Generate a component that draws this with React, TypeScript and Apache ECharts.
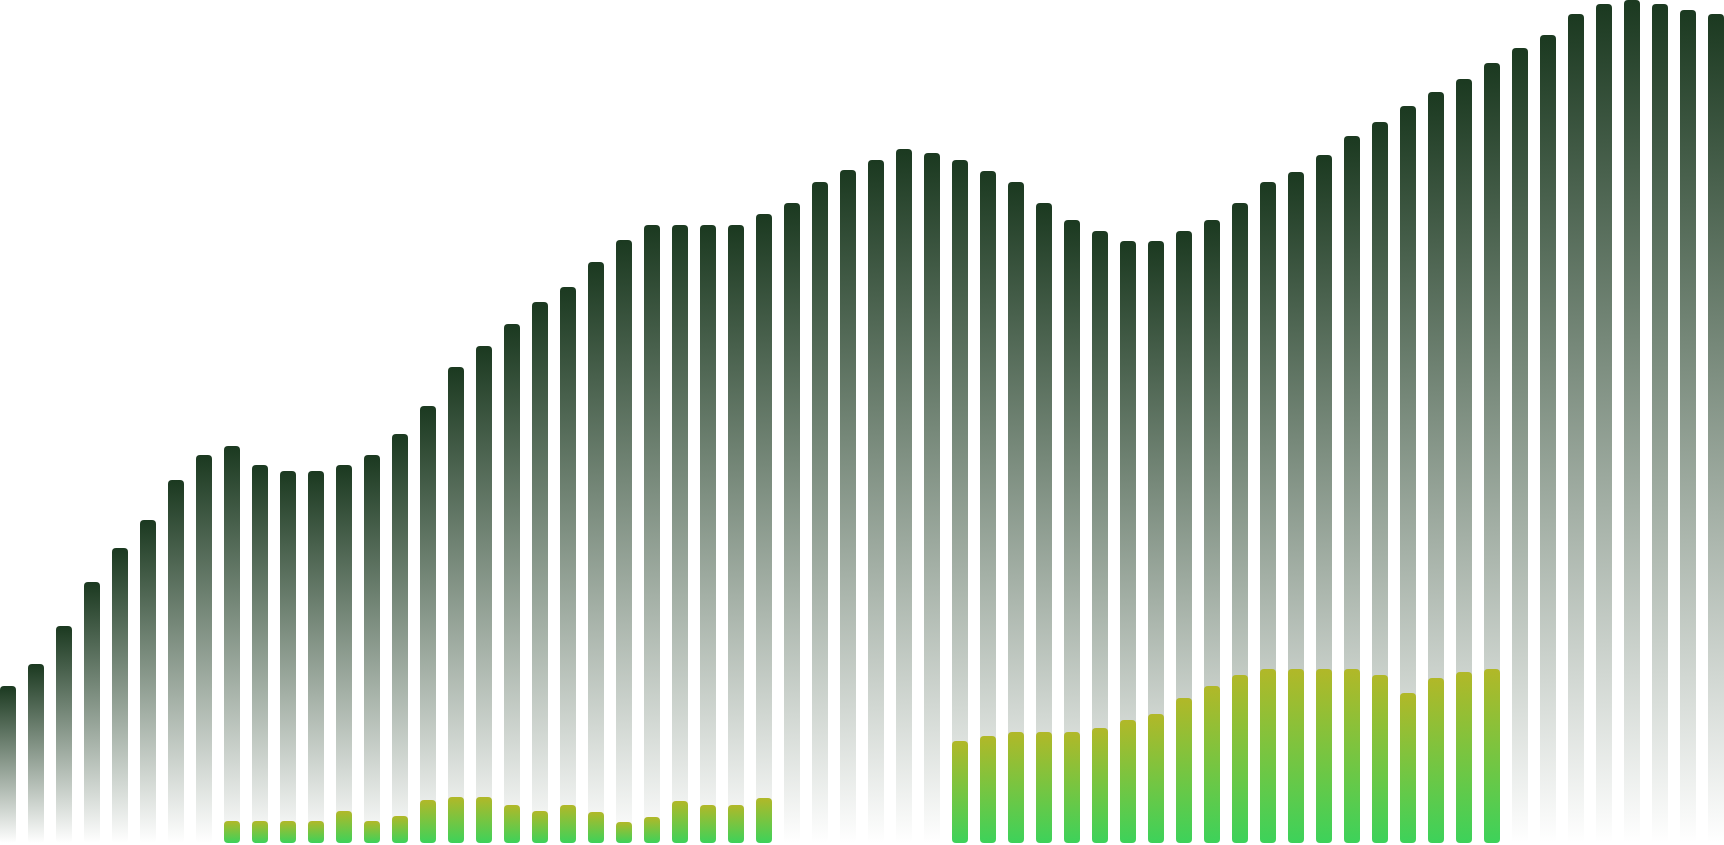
import React, { useEffect, useRef } from "react";
import * as echarts from "echarts";

const categories: string[] = Array.from({ length: 62 }, (_, i) => `P${i + 1}`);

const totalValues: number[] = [
  157, 179, 217, 261, 295, 323, 363, 388, 397, 378,
  372, 372, 378, 388, 409, 437, 476, 497, 519, 541,
  556, 581, 603, 618, 618, 618, 618, 629, 640, 661,
  673, 683, 694, 690, 683, 672, 661, 640, 623, 612,
  602, 602, 612, 623, 640, 661, 671, 688, 707, 721,
  737, 751, 764, 780, 795, 808, 829, 839, 843, 839,
  833, 829,
];

const partValues: (number | null)[] = [
  null, null, null, null, null, null, null, null, 22, 22,
  22, 22, 32, 22, 27, 43, 46, 46, 38, 32,
  38, 31, 21, 26, 42, 38, 38, 45, null, null,
  null, null, null, null, 102, 107, 111, 111, 111, 115,
  123, 129, 145, 157, 168, 174, 174, 174, 174, 168,
  150, 165, 171, 174, null, null, null, null, null, null,
  null, null,
];

const yMax = 843;

export default function App() {
  const ref = useRef<HTMLDivElement>(null);

  useEffect(() => {
    if (!ref.current) return;
    const chart = echarts.init(ref.current, undefined, { renderer: "svg" });
    chart.setOption({
      animation: false,
      backgroundColor: "transparent",
      grid: { left: 0, right: 0, top: 0, bottom: 2, containLabel: false },
      xAxis: {
        type: "category",
        data: categories,
        show: false,
        boundaryGap: true,
      },
      yAxis: {
        type: "value",
        min: 0,
        max: yMax,
        show: false,
        splitLine: { show: false },
      },
      series: [
        {
          type: "bar",
          data: totalValues,
          barWidth: 16,
          barGap: "-100%",
          itemStyle: {
            borderRadius: 4,
            color: new echarts.graphic.LinearGradient(0, 0, 0, 1, [
              { offset: 0, color: "rgba(27,57,32,1)" },
              { offset: 1, color: "rgba(27,57,32,0)" },
            ]),
          },
        },
        {
          type: "bar",
          data: partValues,
          barWidth: 16,
          barGap: "-100%",
          itemStyle: {
            borderRadius: 4,
            color: new echarts.graphic.LinearGradient(0, 0, 0, 1, [
              { offset: 0, color: "#b1b828" },
              { offset: 1, color: "#3dd25a" },
            ]),
          },
        },
      ],
    });
    return () => chart.dispose();
  }, []);

  return (
    <div style={{ position: "fixed", left: 0, top: 0, width: 1724, height: 845, overflow: "hidden", background: "#ffffff" }}>
      <div
        ref={ref}
        style={{ position: "absolute", left: -6, top: 0, width: 1736, height: 845 }}
      />
    </div>
  );
}
